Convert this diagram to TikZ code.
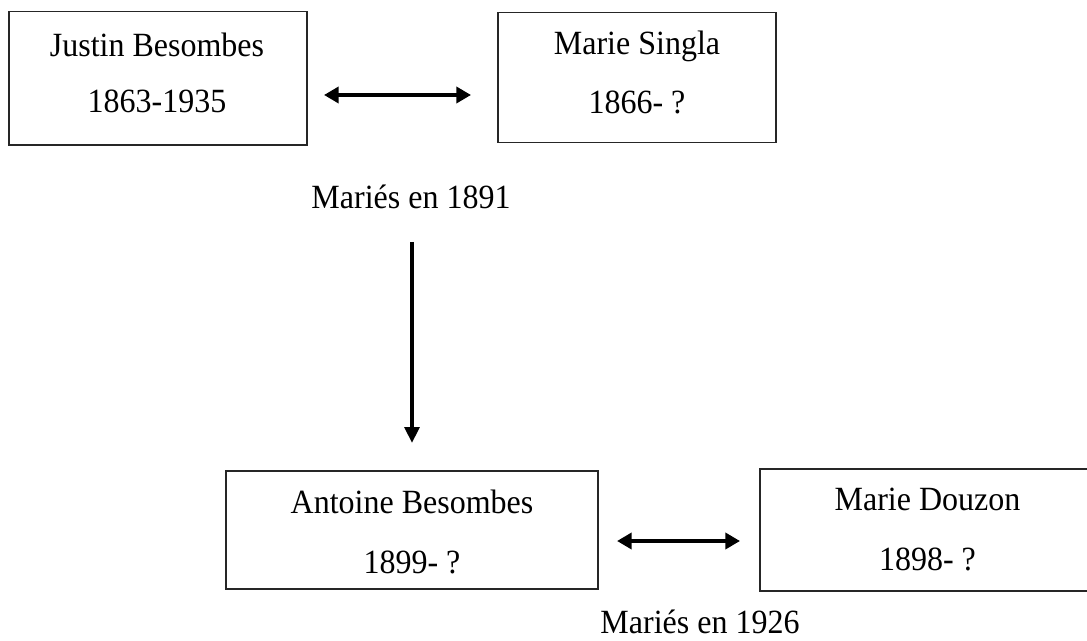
\documentclass[tikz,border=0pt]{standalone}
\usepackage{fontspec}
\setmainfont{Liberation Serif}
\usetikzlibrary{arrows.meta}
\newcommand{\tallt}[1]{\scalebox{1}[1.06]{#1}}
\begin{document}
\begin{tikzpicture}[x=0.75pt,y=-0.75pt,
  box/.style={draw=black!85, line width=1pt, rectangle, inner sep=0pt},
  lbl/.style={anchor=base, inner sep=0pt, font=\fontsize{24}{28}\selectfont},
  link/.style={line width=3pt, {Triangle[length=11pt,width=12pt]}-{Triangle[length=11pt,width=12pt]}},
  desc/.style={line width=3pt, -{Triangle[length=12pt,width=11pt]}}]
\clip (0,0) rectangle (1087,641);
\fill[white] (0,0) rectangle (1087,641);
% boxes
\node[box, minimum width=223.5pt, minimum height=100pt] (jb) at (158,78.4) {};
\node[box, minimum width=208.5pt, minimum height=97.5pt] (ms) at (637,77.7) {};
\node[box, minimum width=279pt, minimum height=88.5pt] (ab) at (412,530) {};
\node[box, minimum width=251.25pt, minimum height=91.5pt] (md) at (927.5,530) {};
% texts
\node[lbl] (jbname) at (157,57) {\tallt{Justin Besombes}};
\node[lbl] (jbdate) at (157,113) {\tallt{1863-1935}};
\node[lbl] (msname) at (637,55) {\tallt{Marie Singla}};
\node[lbl] (msdate) at (637,114) {\tallt{1866- ?}};
\node[lbl] (abname) at (412,513) {\tallt{Antoine Besombes}};
\node[lbl] (abdate) at (412,573) {\tallt{1899- ?}};
\node[lbl] (mdname) at (927.5,510) {\tallt{Marie Douzon}};
\node[lbl] (mddate) at (927.5,570) {\tallt{1898- ?}};
\node[lbl] (m1891) at (411,209) {\tallt{Mariés en 1891}};
\node[lbl] (m1926) at (700,633) {\tallt{Mariés en 1926}};
% connectors
\coordinate (l1a) at (324,95);
\coordinate (l1b) at (471,95);
\coordinate (da) at (412,242);
\coordinate (db) at (412,443);
\coordinate (l2a) at (617,541);
\coordinate (l2b) at (740,541);
\draw[link] (l1a) -- (l1b);
\draw[desc] (da) -- (db);
\draw[link] (l2a) -- (l2b);
\end{tikzpicture}
\end{document}
